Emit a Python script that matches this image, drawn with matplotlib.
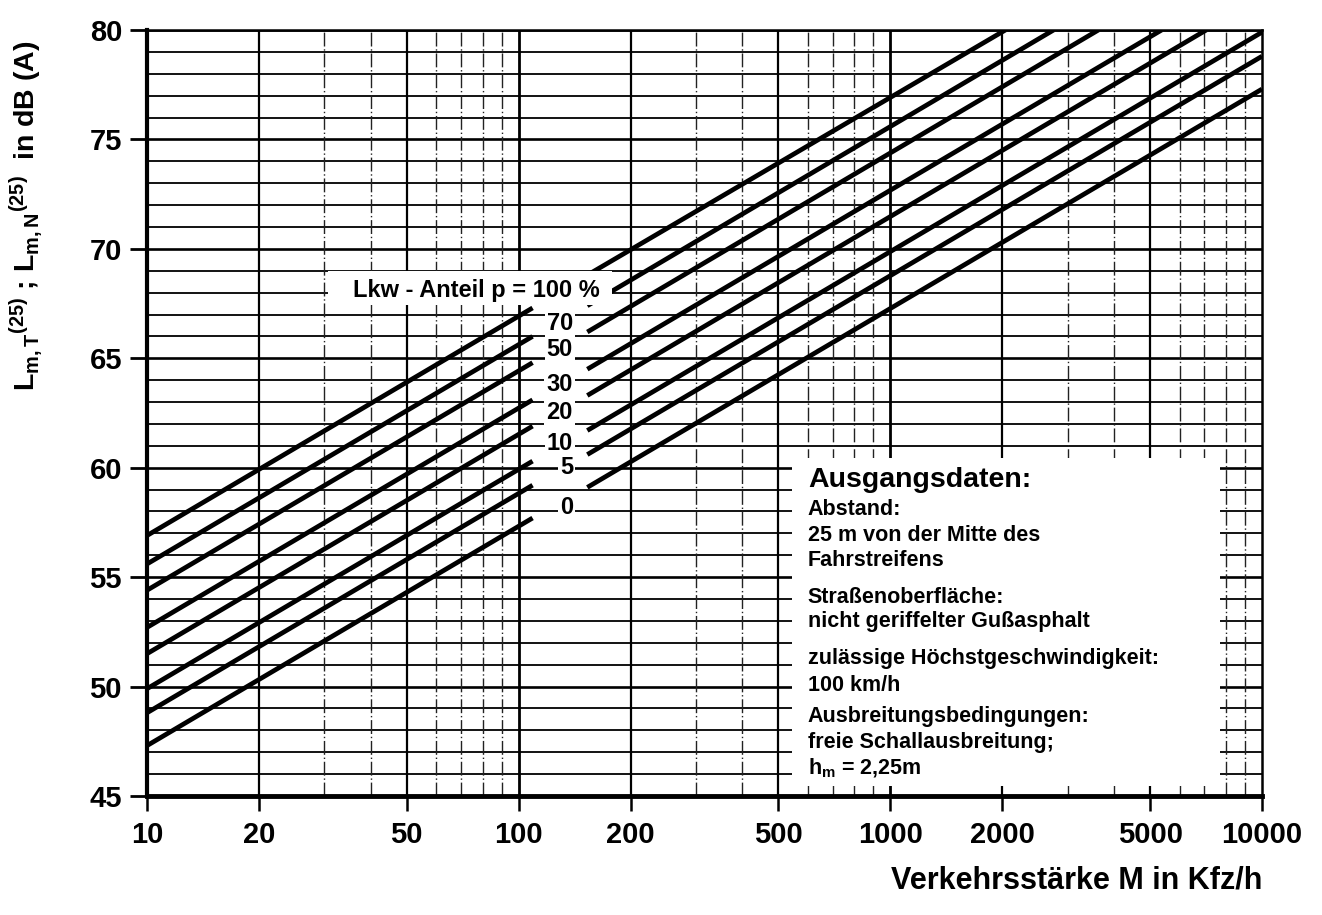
import numpy as np
import matplotlib
matplotlib.use("Agg")
import matplotlib.pyplot as plt
from matplotlib.patches import Rectangle
from matplotlib.ticker import NullLocator, FixedLocator

plt.rcParams['font.family'] = ['Liberation Sans', 'DejaVu Sans']
plt.rcParams['mathtext.fontset'] = 'custom'
plt.rcParams['mathtext.rm'] = 'Liberation Sans:bold'
plt.rcParams['mathtext.it'] = 'Liberation Sans:bold'
plt.rcParams['mathtext.bf'] = 'Liberation Sans:bold'

# Lkw-Anteil p in %
anteil = [0, 5, 10, 20, 30, 50, 70, 100]
anteil_txt = ["0", "5", "10", "20", "30", "50", "70"]

# linker Ast der Kurven (M = 10 ... 109 Kfz/h)
m_links = [10, 109]
L_links_start = [47.3, 48.8, 49.9, 51.5, 52.7, 54.4, 55.6, 56.9]
L_links_ende = [57.7, 59.2, 60.3, 61.9, 63.1, 64.8, 66.0, 67.3]

# rechter Ast (ab M = 153 Kfz/h bis zum Rand)
m_rechts_start = 153
L_rechts_start = [59.1, 60.6, 61.7, 63.3, 64.5, 66.2, 67.4, 68.8]
m_rechts_ende = [10000, 10000, 10000, 7080, 5370, 3630, 2750, 2040]
L_rechts_ende = [77.3, 78.8, 79.9, 80.0, 80.0, 80.0, 80.0, 80.0]

x_ticks = [10, 20, 50, 100, 200, 500, 1000, 2000, 5000, 10000]
y_ticks = [45, 50, 55, 60, 65, 70, 75, 80]

info_zeilen = ["Abstand:", "25 m von der Mitte des", "Fahrstreifens",
               "Straßenoberfläche:", "nicht geriffelter Gußasphalt",
               "zulässige Höchstgeschwindigkeit:", "100 km/h",
               "Ausbreitungsbedingungen:", "freie Schallausbreitung;",
               r"h$_m$ = 2,25m"]

fig = plt.figure(figsize=(13.22, 9.15), dpi=100)
ax = fig.add_axes([0.1112, 0.1301, 0.8434, 0.8371])
ax.set_xscale("log")
ax.set_xlim(10, 10000)
ax.set_ylim(45, 80)

# Raster
for y in range(45, 81):
    ax.axhline(y, color="black", lw=1.9 if y % 5 == 0 else 1.3, zorder=1)
for d in [10, 100, 1000]:
    for k in range(1, 10):
        x = d * k
        if k == 1:
            ax.axvline(x, color="black", lw=2.0, zorder=1)
        elif k in (2, 5):
            ax.axvline(x, color="black", lw=1.6, zorder=1)
        else:
            ax.axvline(x, color="#222222", lw=1.0, ls=(0, (10, 2, 1, 2)), zorder=1)

# Kasten Ausgangsdaten
ax.add_patch(Rectangle((543, 45.45), 7710 - 543, 60.44 - 45.45,
                       facecolor="white", edgecolor="none", zorder=2))

# Kurven
for i in range(len(anteil)):
    ax.plot(m_links, [L_links_start[i], L_links_ende[i]], color="black",
            lw=3.4, solid_capstyle="butt", zorder=3)
    ax.plot([m_rechts_start, m_rechts_ende[i]], [L_rechts_start[i], L_rechts_ende[i]],
            color="black", lw=3.4, solid_capstyle="butt", zorder=3)

# Beschriftung Lkw-Anteil
ax.add_patch(Rectangle((30.7, 67.45), 178 - 30.7, 69.0 - 67.45,
                       facecolor="white", edgecolor="none", zorder=4))
ax.text(77, 68.1, "Lkw - Anteil p = 100 %", fontsize=17, fontweight="bold",
        ha="center", va="center", zorder=5)
label_y = [58.2, 60.0, 61.1, 62.5, 63.8, 65.4, 66.6]
for t, y in zip(anteil_txt, label_y):
    ax.text(140, y, t, fontsize=17, fontweight="bold", ha="right", va="center", zorder=5,
            bbox=dict(facecolor="white", edgecolor="none", pad=1.5))

# Text Ausgangsdaten
ax.text(600, 59.44, "Ausgangsdaten:", fontsize=20.5, fontweight="bold", va="center", zorder=5)
zeilen_y = [58.07, 56.88, 55.74, 54.09, 52.95, 51.26, 50.07, 48.61, 47.42, 46.28]
for t, y in zip(info_zeilen, zeilen_y):
    ax.text(600, y, t, fontsize=15.5, fontweight="bold", va="center", zorder=5)

# Achsen
ax.xaxis.set_major_locator(FixedLocator(x_ticks))
ax.xaxis.set_minor_locator(NullLocator())
ax.set_xticklabels([str(v) for v in x_ticks])
ax.set_yticks(y_ticks)
ax.tick_params(axis="y", length=12, width=2, pad=6, labelsize=21)
ax.tick_params(axis="x", length=11, width=1.8, pad=7, labelsize=21)
for lab in ax.get_xticklabels() + ax.get_yticklabels():
    lab.set_fontweight("bold")
ax.spines["left"].set_linewidth(3)
ax.spines["bottom"].set_linewidth(3.5)
ax.spines["top"].set_linewidth(1.8)
ax.spines["right"].set_linewidth(1.8)
for s in ax.spines.values():
    s.set_zorder(6)

fig.text(0.9546, 0.038, "Verkehrsstärke M in Kfz/h", fontsize=22, fontweight="bold",
         ha="right", va="center")
fig.text(0.02, 0.764, r"L$_{m,T}{}^{(25)}$ ; L$_{m,N}{}^{(25)}$  in dB (A)",
         fontsize=20.5, fontweight="bold", rotation=90, ha="center", va="center")

fig.savefig("out.png", dpi=100)
